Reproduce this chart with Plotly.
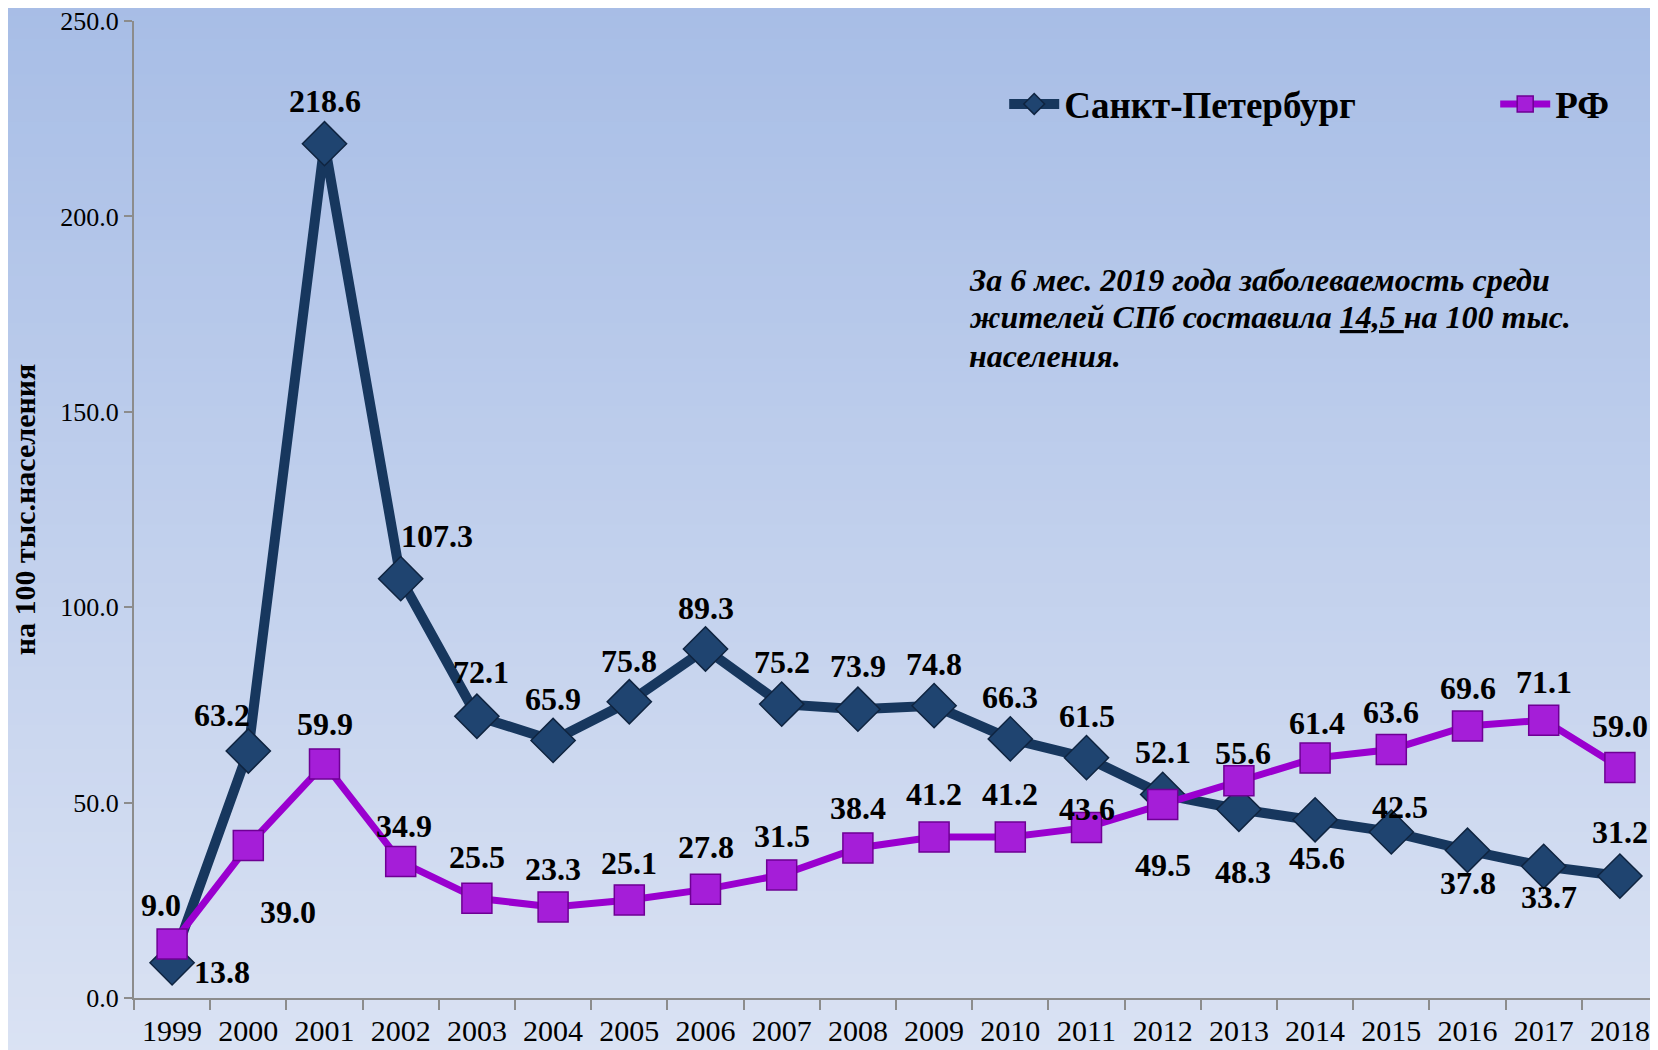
import plotly.graph_objects as go

# Data
years = ["1999", "2000", "2001", "2002", "2003", "2004", "2005", "2006", "2007", "2008",
         "2009", "2010", "2011", "2012", "2013", "2014", "2015", "2016", "2017", "2018"]
spb_values = [9.0, 63.2, 218.6, 107.3, 72.1, 65.9, 75.8, 89.3, 75.2, 73.9,
              74.8, 66.3, 61.5, 52.1, 48.3, 45.6, 42.5, 37.8, 33.7, 31.2]
rf_values = [13.8, 39.0, 59.9, 34.9, 25.5, 23.3, 25.1, 27.8, 31.5, 38.4,
             41.2, 41.2, 43.6, 49.5, 55.6, 61.4, 63.6, 69.6, 71.1, 59.0]
spb_name = "Санкт-Петербург"
rf_name = "РФ"
y_title = "на 100 тыс.населения"
note_lines = ["За 6 мес. 2019 года заболеваемость среди",
              "жителей СПб составила <u>14,5 </u>на 100 тыс.",
              "населения."]

# label offsets in pixels (dx, dy up)
spb_shift = [(-11, 58), (-26, 36), (0, 43), (36, 43), (4, 44), (0, 41), (0, 41), (0, 41),
             (0, 42), (0, 43), (0, 42), (0, 42), (0, 42), (0, 42), (4, -63), (2, -38),
             (9, 25), (0, -33), (5, -31), (0, 44)]
rf_shift = [(50, -28), (40, -66), (0, 40), (3, 36), (0, 41), (0, 38), (0, 37), (0, 42),
            (0, 39), (0, 40), (0, 43), (0, 43), (0, 19), (0, -60), (4, 28), (2, 35),
            (0, 37), (0, 38), (0, 38), (0, 41)]

SERIF = "Liberation Serif, Times New Roman, serif"
SPB_COLOR = "#17375e"
RF_COLOR = "#9a00cf"

fig = go.Figure()

fig.add_trace(go.Scatter(
    x=years, y=spb_values, name=spb_name, mode="lines+markers",
    line=dict(color=SPB_COLOR, width=10),
    marker=dict(symbol="diamond", size=34, color="#1f4470",
                line=dict(color="#0f2440", width=1.5)),
))
fig.add_trace(go.Scatter(
    x=years, y=rf_values, name=rf_name, mode="lines+markers",
    line=dict(color=RF_COLOR, width=7),
    marker=dict(symbol="square", size=30, color="#a51ed8",
                line=dict(color="#6e0094", width=1.5)),
))

# Value labels (category axis -> annotation x is the category index)
annotations = []
for vals, shifts in [(spb_values, spb_shift), (rf_values, rf_shift)]:
    for i, (v, (dx, dy)) in enumerate(zip(vals, shifts)):
        annotations.append(dict(
            x=i, y=v, xref="x", yref="y", text=f"<b>{v:.1f}</b>", showarrow=False,
            xshift=dx, yshift=dy,
            font=dict(family=SERIF, size=32, color="black"),
        ))

# Note text, one annotation per line to keep the tight line spacing
note_y = [0.735, 0.697, 0.657]
for line, ny in zip(note_lines, note_y):
    annotations.append(dict(
        x=0.5466, y=ny, xref="paper", yref="paper", xanchor="left", yanchor="middle",
        align="left", showarrow=False, text="<b><i>" + line + "</i></b>",
        font=dict(family=SERIF, size=32, color="black"),
    ))

# Vertical gradient background made from thin bands
top_rgb = (167, 189, 230)
bot_rgb = (218, 226, 243)
n_bands = 90
y0, y1 = -0.06, 1.03
shapes = []
for i in range(n_bands):
    t = i / (n_bands - 1)
    c = tuple(round(b + (a - b) * t) for a, b in zip(top_rgb, bot_rgb))
    shapes.append(dict(
        type="rect", xref="paper", yref="paper", layer="below",
        x0=-0.1, x1=1.01,
        y0=y0 + (y1 - y0) * i / n_bands, y1=y0 + (y1 - y0) * (i + 1) / n_bands + 0.002,
        fillcolor="rgb(%d,%d,%d)" % c, line=dict(width=0),
    ))

# the page body keeps its default 8px margin, so the figure is 8px smaller
fig.update_layout(
    width=1650, height=1042,
    margin=dict(l=126, r=0, t=13, b=52, autoexpand=False),
    paper_bgcolor="rgb(193,207,236)",
    plot_bgcolor="rgba(0,0,0,0)",
    shapes=shapes,
    annotations=annotations,
    showlegend=True,
    legend=dict(
        orientation="h", x=0.571, y=0.9146, xanchor="left", yanchor="middle",
        bgcolor="rgba(0,0,0,0)", entrywidth=426, itemwidth=50,
        font=dict(family=SERIF, size=37, color="black", weight="bold"),
    ),
    font=dict(family=SERIF, color="black"),
)

fig.update_xaxes(
    type="category", range=[-0.5, 19.5], tickson="boundaries", tickangle=0,
    ticks="outside", ticklen=10, tickwidth=2, tickcolor="#8c8c8c",
    showline=True, linecolor="#8c8c8c", linewidth=2, showgrid=False,
    ticklabelstandoff=5,
    tickfont=dict(family=SERIF, size=30, color="black"),
)
fig.update_yaxes(
    range=[0, 250], dtick=50, tickformat=".1f", ticklabeloverflow="allow",
    ticks="outside", ticklen=8, tickwidth=2, tickcolor="#8c8c8c",
    showline=True, linecolor="#8c8c8c", linewidth=2, showgrid=False, zeroline=False,
    tickfont=dict(family=SERIF, size=26, color="black"),
    title=dict(text="<b>" + y_title + "</b>", standoff=16,
               font=dict(family=SERIF, size=30, color="black")),
)

fig.write_html("out.html")
